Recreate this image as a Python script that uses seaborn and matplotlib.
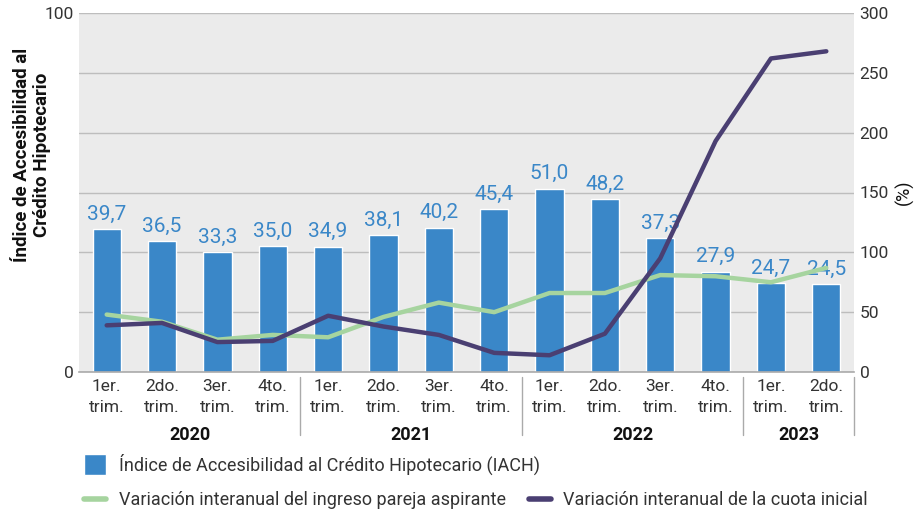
import numpy as np
import pandas as pd
import matplotlib
matplotlib.use('Agg')
import matplotlib.pyplot as plt
import matplotlib.transforms as mtransforms
from matplotlib import font_manager as fm
from matplotlib.patches import Patch
from matplotlib.lines import Line2D
import seaborn as sns

# datos
periodos = ['2020-T1', '2020-T2', '2020-T3', '2020-T4',
            '2021-T1', '2021-T2', '2021-T3', '2021-T4',
            '2022-T1', '2022-T2', '2022-T3', '2022-T4',
            '2023-T1', '2023-T2']
trimestres = ['1er.\ntrim.', '2do.\ntrim.', '3er.\ntrim.', '4to.\ntrim.'] * 3 + ['1er.\ntrim.', '2do.\ntrim.']
anios = ['2020', '2021', '2022', '2023']
trim_por_anio = [4, 4, 4, 2]
iach = [39.7, 36.5, 33.3, 35.0, 34.9, 38.1, 40.2, 45.4, 51.0, 48.2, 37.3, 27.9, 24.7, 24.5]
var_ingreso = [48, 42, 27, 31, 29, 46, 58, 50, 66, 66, 81, 80, 75, 87]
var_cuota = [39, 41, 25, 26, 47, 38, 31, 16, 14, 32, 95, 193, 262, 268]

azul = '#3A87C8'
verde = '#A6D49F'
morado = '#4A3F72'
fondo = '#EBEBEB'
gris_txt = '#333333'

sns.set_theme(style='white')

# fuente condensada si existe
nombres = {f.name for f in fm.fontManager.ttflist}
if 'Liberation Sans Narrow' in nombres:
    fam = 'Liberation Sans Narrow'
else:
    fam = 'Roboto'
plt.rcParams['font.family'] = [fam, 'DejaVu Sans']

df = pd.DataFrame({'periodo': periodos, 'iach': iach,
                   'ingreso': var_ingreso, 'cuota': var_cuota})
df['pos'] = np.arange(len(df))

fig = plt.figure(figsize=(9.17, 5.14), dpi=100)
ax = fig.add_axes([79 / 917, 1 - 372 / 514, (854 - 79) / 917, 359 / 514])

sns.barplot(data=df, x='periodo', y='iach', color=azul, saturation=1,
            width=0.51, ax=ax)
ax.set_facecolor(fondo)
ax.set_xlim(-0.5, 13.5)
ax.set_ylim(0, 100)
ax.set_yticks(np.linspace(0, 100, 7))
ax.set_yticklabels(['0', '', '', '', '', '', '100'])
ax.grid(axis='y', color='#BDBDBD', lw=1)
ax.set_axisbelow(True)
for s in ['top', 'left', 'right']:
    ax.spines[s].set_visible(False)
ax.spines['bottom'].set_color('#AAAAAA')
ax.spines['bottom'].set_linewidth(1.2)
ax.set_xticks(range(len(trimestres)))
ax.set_xticklabels(trimestres, linespacing=1.5)
ax.tick_params(axis='both', length=0, labelsize=12.5, labelcolor=gris_txt)
ax.tick_params(axis='x', pad=5)
ax.tick_params(axis='y', pad=4)
ax.set_xlabel('')
ax.set_ylabel('')

ax.bar_label(ax.containers[0], labels=[f'{v:.1f}'.replace('.', ',') for v in iach],
             padding=4, color=azul, fontsize=15)

ax2 = ax.twinx()
sns.lineplot(data=df, x='pos', y='ingreso', color=verde, lw=3.2, ax=ax2,
             solid_capstyle='round')
sns.lineplot(data=df, x='pos', y='cuota', color=morado, lw=3.2, ax=ax2,
             solid_capstyle='round')
ax2.set_ylim(0, 300)
ax2.set_yticks(np.arange(0, 301, 50))
ax2.grid(False)
for s in ax2.spines.values():
    s.set_visible(False)
ax2.tick_params(axis='y', length=0, labelsize=12.5, labelcolor=gris_txt, pad=4)
ax2.set_xlabel('')
ax2.set_ylabel('(%)', fontsize=13, color='#111111', labelpad=4)

# anios y separadores debajo del eje
trans = mtransforms.blended_transform_factory(ax.transData, ax.transAxes)
inicio = 0
for anio, n in zip(anios, trim_por_anio):
    centro = inicio + (n - 1) / 2
    ax.text(centro, -0.175, anio, transform=trans, ha='center', va='center',
            fontsize=13, fontweight='bold', color='#111111')
    fin = inicio + n - 0.5
    ax.plot([fin, fin], [-0.015, -0.175], transform=trans, color='#AAAAAA',
            lw=1, clip_on=False)
    inicio += n

fig.text(0.035, 1 - 155 / 514, 'Índice de Accesibilidad al\nCrédito Hipotecario',
         rotation=90, ha='center', va='center', fontsize=13.5,
         fontweight='bold', color='#111111', linespacing=1.1)

leg1 = fig.legend(handles=[Patch(facecolor=azul, label='Índice de Accesibilidad al Crédito Hipotecario (IACH)')],
                  loc='center left', bbox_to_anchor=(68 / 917, 1 - 464 / 514),
                  frameon=False, fontsize=13, handlelength=1.2, handleheight=1.4,
                  handletextpad=0.7, labelcolor=gris_txt)
leg2 = fig.legend(handles=[Line2D([], [], color=verde, lw=4, solid_capstyle='round',
                                  label='Variación interanual del ingreso pareja aspirante'),
                           Line2D([], [], color=morado, lw=4, solid_capstyle='round',
                                  label='Variación interanual de la cuota inicial')],
                  loc='center left', bbox_to_anchor=(68 / 917, 1 - 500 / 514),
                  ncol=2, frameon=False, fontsize=13, handlelength=1.2,
                  handletextpad=0.7, columnspacing=1.3, labelcolor=gris_txt)

fig.savefig('out.png', dpi=100)
